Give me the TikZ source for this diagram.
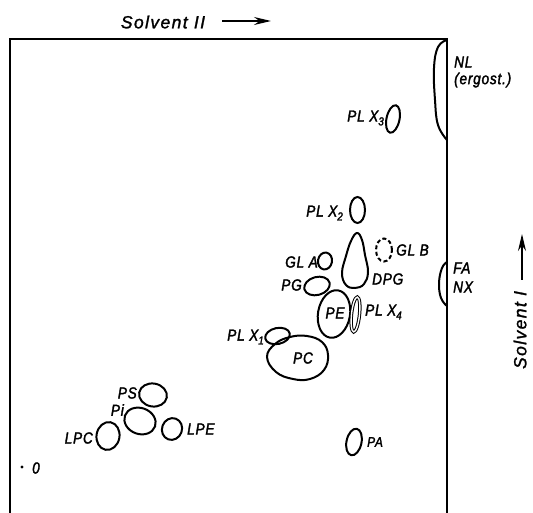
\documentclass[tikz,border=0pt]{standalone}
\usepackage{fontspec}
\setmainfont{Liberation Sans}
\newfontfamily\lblfont[FakeStretch=0.85,LetterSpace=5,FakeBold=2]{Liberation Sans}
\newfontfamily\axfont[LetterSpace=8,FakeBold=1.5]{Liberation Sans}
\usetikzlibrary{shapes.geometric,arrows.meta}
\newcommand\sbs[1]{\raisebox{-0.45ex}{\fontsize{11.5}{12}\selectfont #1}}
\begin{document}
\begin{tikzpicture}[x=1pt,y=-1pt,
  lbl/.style={font=\lblfont\itshape\fontsize{16}{17}\selectfont, inner sep=0pt},
  smlbl/.style={font=\lblfont\itshape\fontsize{14}{15}\selectfont, inner sep=0pt},
  axlbl/.style={font=\axfont\itshape\fontsize{17.5}{18}\selectfont, inner sep=0pt},
  spot/.style={draw, ellipse, line width=2pt, inner sep=0pt},
  blob/.style={draw, line width=2pt},
  frame/.style={line width=1.3pt},
  axarrow/.style={line width=1.4pt, -{Stealth[length=17pt,width=8pt]}}]
\useasboundingbox (0,0) rectangle (533,513);
% frame
\draw[frame] (10,513) -- (10,39) -- (447,39) -- (447,513);
% axis labels
\node[axlbl] (s2) at (163,22) {Solvent II};
\coordinate (s2a) at (222,21);
\coordinate (s2b) at (271,21);
\draw[axarrow] (s2a) -- (s2b);
\node[axlbl, rotate=90] (s1) at (520,330) {Solvent I};
\coordinate (s1a) at (522,280);
\coordinate (s1b) at (522,234);
\draw[axarrow] (s1a) -- (s1b);
% front spots
\draw[blob] plot[smooth, tension=0.7] coordinates {(447,40) (438,47) (434,68) (435,100) (438,125) (447,140)};
\node[lbl, anchor=west] (nl) at (454,62) {NL};
\node[lbl, anchor=west] (erg) at (454,80) {(ergost.)};
\draw[blob] plot[smooth, tension=0.7] coordinates {(447,262) (442,268) (439,283) (441,298) (447,306)};
\node[lbl, anchor=west] (fa) at (453,268) {FA};
\node[lbl, anchor=west] (nx) at (453,287) {NX};
% PL X3
\node[spot, minimum width=13pt, minimum height=28pt, rotate=-12] (plx3) at (393,119) {};
\node[lbl, anchor=east] (tplx3) at (384,118) {PL X\sbs{3}};
% PL X2
\node[spot, minimum width=15pt, minimum height=26pt] (plx2) at (357.5,210) {};
\node[lbl, anchor=east] (tplx2) at (343,213) {PL X\sbs{2}};
% GL A
\node[spot, minimum width=14pt, minimum height=17pt, rotate=-10] (gla) at (325,261) {};
\node[lbl, anchor=east] (tgla) at (318,262) {GL A};
% GL B
\node[spot, dashed, dash pattern=on 4pt off 2.5pt, minimum width=16pt, minimum height=23pt] (glb) at (384,250) {};
\node[lbl, anchor=west] (tglb) at (396,250) {GL B};
% DPG
\draw[blob] plot[smooth cycle, tension=0.7] coordinates {(357,233) (362,240) (365,255) (368,272) (364,284) (355,288) (346,285) (342,273) (346,256) (351,241)};
\node[lbl, anchor=west] (tdpg) at (372,279) {DPG};
% PG
\node[spot, minimum width=26pt, minimum height=18pt, rotate=15] (pg) at (317,286) {};
\node[lbl, anchor=east] (tpg) at (302,285) {PG};
% PE
\node[spot, minimum width=32pt, minimum height=48pt, rotate=-10] (pe) at (334,314) {};
\node[lbl] (tpe) at (335,313) {PE};
% PL X4
\node[spot, line width=1pt, double, double distance=1.4pt, minimum width=8pt, minimum height=35pt, rotate=-6] (plx4) at (355.5,314.5) {};
\node[lbl, anchor=west] (tplx4) at (365,312) {PL X\sbs{4}};
% PL X1
\node[spot, minimum width=25pt, minimum height=16pt, rotate=12] (plx1) at (277.5,336) {};
\node[lbl, anchor=east] (tplx1) at (264,337) {PL X\sbs{1}};
% PC
\draw[blob] plot[smooth cycle, tension=0.7] coordinates {(267,357) (275,344) (290,337) (307,336) (322,342) (328,355) (324,370) (310,379) (293,379) (276,372)};
\node[lbl] (tpc) at (303,358) {PC};
% PS
\node[spot, minimum width=28pt, minimum height=23pt, rotate=-10] (ps) at (153,395) {};
\node[lbl, anchor=east] (tps) at (137,393) {PS};
% Pi
\node[spot, minimum width=32pt, minimum height=26pt, rotate=-20] (pi) at (140,421) {};
\node[lbl, anchor=east] (tpi) at (124,410) {Pi};
% LPC
\node[spot, minimum width=23pt, minimum height=28pt, rotate=-10] (lpc) at (108,436) {};
\node[lbl, anchor=east] (tlpc) at (93,438) {LPC};
% LPE
\node[spot, minimum width=20pt, minimum height=22pt, rotate=-20] (lpe) at (172,429) {};
\node[lbl, anchor=west] (tlpe) at (187,429) {LPE};
% PA
\node[spot, minimum width=15pt, minimum height=27pt, rotate=-12] (pa) at (354,442) {};
\node[smlbl, anchor=west] (tpa) at (367,442) {PA};
% origin
\fill (22,467) circle (1.7pt);
\node[lbl, anchor=west] (orig) at (32,468) {0};
\end{tikzpicture}
\end{document}
